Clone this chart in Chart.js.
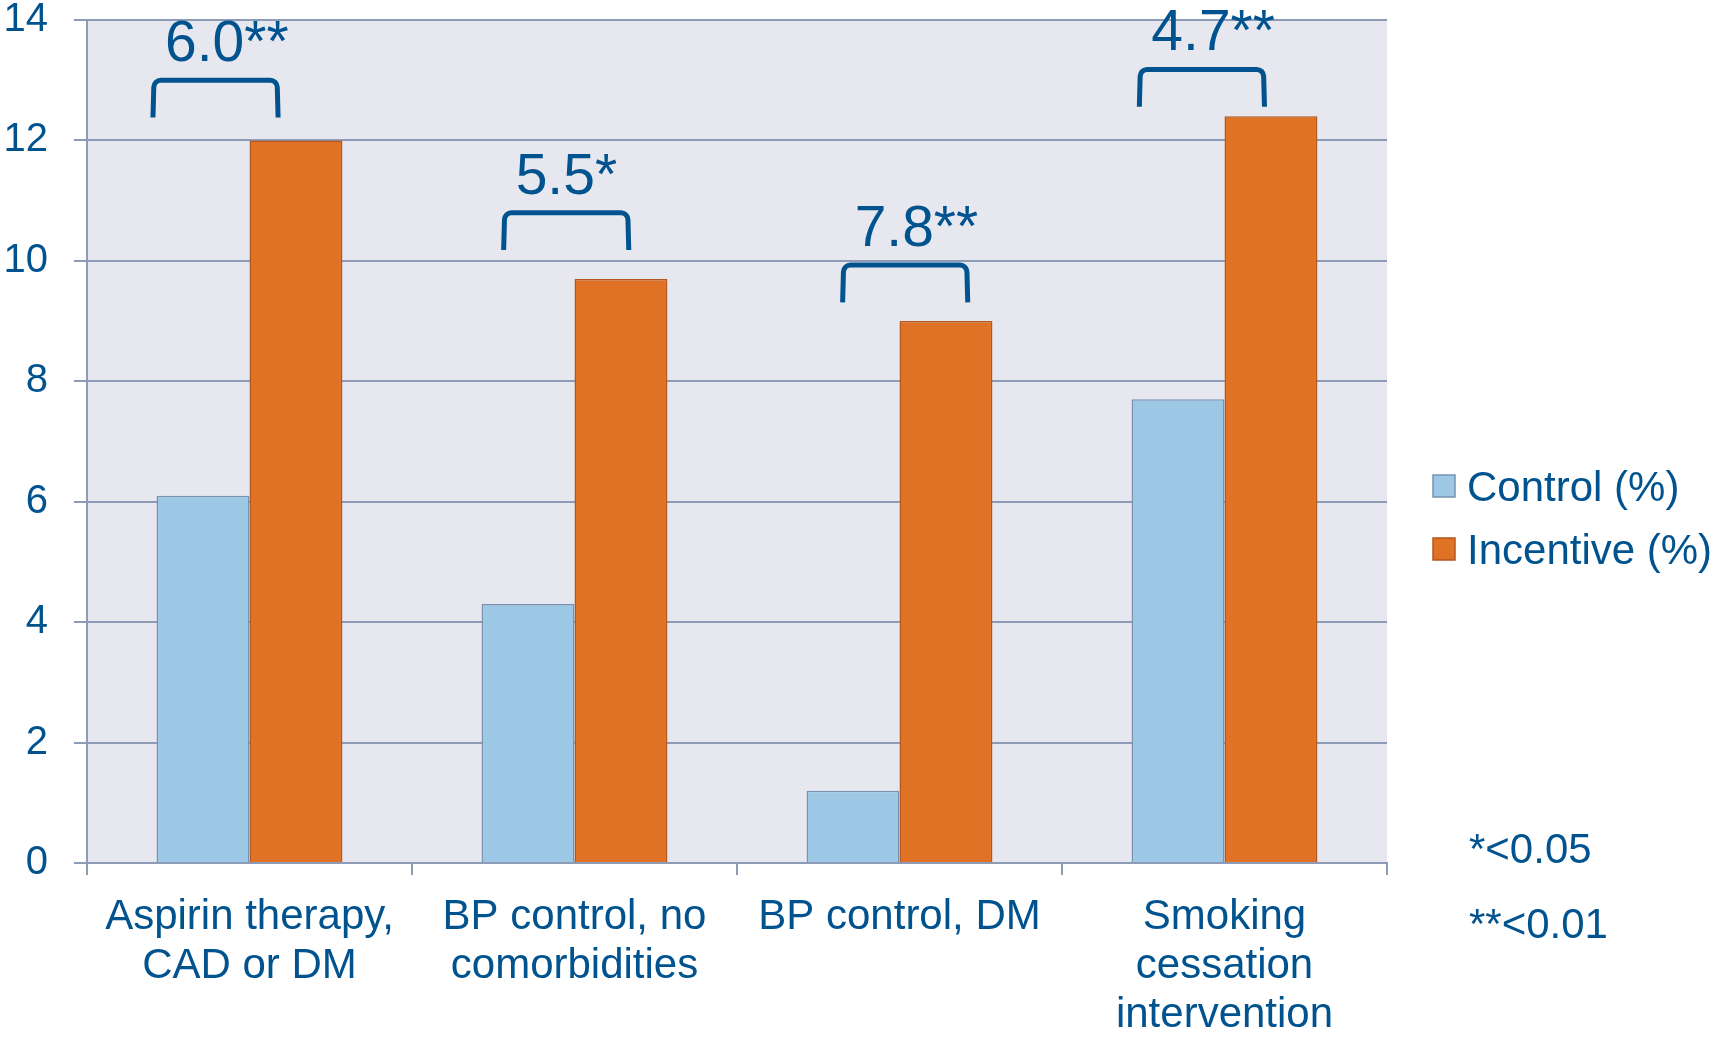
<!DOCTYPE html>
<html>
<head>
<meta charset="utf-8">
<title>Control vs incentive</title>
<script src="https://cdn.jsdelivr.net/npm/chart.js@4.4.1/dist/chart.umd.min.js"></script>
<style>
  html, body { margin: 0; padding: 0; background: #fff; }
  #wrap { width: 1713px; height: 1037px; }
</style>
</head>
<body>
<div id="wrap"><canvas id="chart" width="1713" height="1037"></canvas></div>
<script>
const categories = [
  ["Aspirin therapy,", "CAD or DM"],
  ["BP control, no", "comorbidities"],
  ["BP control, DM"],
  ["Smoking", "cessation", "intervention"],
];
const controlValues = [6.1, 4.3, 1.2, 7.7];
const incentiveValues = [12.0, 9.7, 9.0, 12.4];
const diffLabels = ["6.0**", "5.5*", "7.8**", "4.7**"];
const bracketTops = [13.0, 10.8, 9.93, 13.18];
const footnotes = ["*<0.05", "**<0.01"];

const BLUE = "#00538F";
const GRID = "#8D9BB6";
const FONT = '"Liberation Sans", Arial, Helvetica, sans-serif';

// where each bracket's left leg sits relative to the category centre (category units)
const bracketStart = [-0.297, -0.218, -0.175, -0.262];
const bracketWidth = 0.385;
const bracketLeg = 0.62;

const extras = {
  id: "extras",
  beforeDraw(chart) {
    const { ctx, chartArea: a } = chart;
    ctx.save();
    ctx.fillStyle = "#E7E8EF";
    ctx.fillRect(a.left, a.top, a.right - a.left, a.bottom - a.top);
    ctx.restore();
  },
  afterDraw(chart) {
    const { ctx, chartArea: a, scales: { x, y } } = chart;
    ctx.save();

    // significance brackets + differences
    ctx.strokeStyle = BLUE;
    ctx.fillStyle = BLUE;
    ctx.lineWidth = 5;
    ctx.font = `57px ${FONT}`;
    ctx.textAlign = "left";
    ctx.textBaseline = "alphabetic";
    diffLabels.forEach((txt, i) => {
      const x0 = x.getPixelForValue(i + bracketStart[i]);
      const x1 = x.getPixelForValue(i + bracketStart[i] + bracketWidth);
      const top = y.getPixelForValue(bracketTops[i]);
      const bot = y.getPixelForValue(bracketTops[i] - bracketLeg);
      ctx.beginPath();
      ctx.moveTo(x0, bot);
      ctx.arcTo(x0 + 1, top, x1, top, 7);
      ctx.arcTo(x1 - 1, top, x1, bot, 7);
      ctx.lineTo(x1, bot);
      ctx.stroke();
      ctx.fillText(txt, x0 + 12, top - 19);
    });

    // legend
    ctx.font = `42px ${FONT}`;
    chart.data.datasets.forEach((ds, i) => {
      const bx = a.right + 46;
      const cy = 486 + i * 63;
      ctx.fillStyle = ds.backgroundColor;
      ctx.fillRect(bx, cy - 11, 22, 22);
      ctx.strokeStyle = ds.borderColor;
      ctx.lineWidth = 1.5;
      ctx.strokeRect(bx, cy - 11, 22, 22);
      ctx.fillStyle = BLUE;
      ctx.fillText(ds.label, bx + 34, cy + 15);
    });

    // p-value notes
    ctx.font = `42px ${FONT}`;
    footnotes.forEach((t, i) => {
      ctx.fillText(t, a.right + 82, a.bottom + i * 75);
    });
    ctx.restore();
  }
};

new Chart(document.getElementById("chart"), {
  type: "bar",
  data: {
    labels: categories,
    datasets: [
      {
        label: "Control (%)",
        data: controlValues,
        backgroundColor: "#9CC8E5",
        borderColor: "#7791AE",
        borderWidth: 1.5,
      },
      {
        label: "Incentive (%)",
        data: incentiveValues,
        backgroundColor: "#E07226",
        borderColor: "#B4571E",
        borderWidth: 1.5,
      },
    ],
  },
  options: {
    responsive: false,
    animation: false,
    layout: { padding: { top: 20, right: 326, bottom: 0, left: 0 } },
    datasets: { bar: { categoryPercentage: 0.572, barPercentage: 1.0 } },
    plugins: { legend: { display: false }, tooltip: { enabled: false } },
    scales: {
      x: {
        afterFit: (s) => { s.height = 174; },
        grid: { drawOnChartArea: false, drawTicks: true, tickLength: 12, color: GRID, lineWidth: 2 },
        border: { display: true, color: GRID, width: 2 },
        ticks: {
          color: BLUE,
          font: { family: FONT, size: 42, lineHeight: 1.17 },
          padding: 18,
          maxRotation: 0,
          autoSkip: false,
        },
      },
      y: {
        min: 0,
        max: 14,
        afterFit: (s) => {
          s.width = 87;
          s.paddingTop = 0;
          s.paddingBottom = 0;
        },
        grid: { color: GRID, lineWidth: 2, tickLength: 13 },
        border: { display: true, color: GRID, width: 2 },
        ticks: {
          stepSize: 2,
          color: BLUE,
          padding: 26,
          font: { family: FONT, size: 40, lineHeight: 1 },
        },
      },
    },
  },
  plugins: [extras],
});
</script>
</body>
</html>
